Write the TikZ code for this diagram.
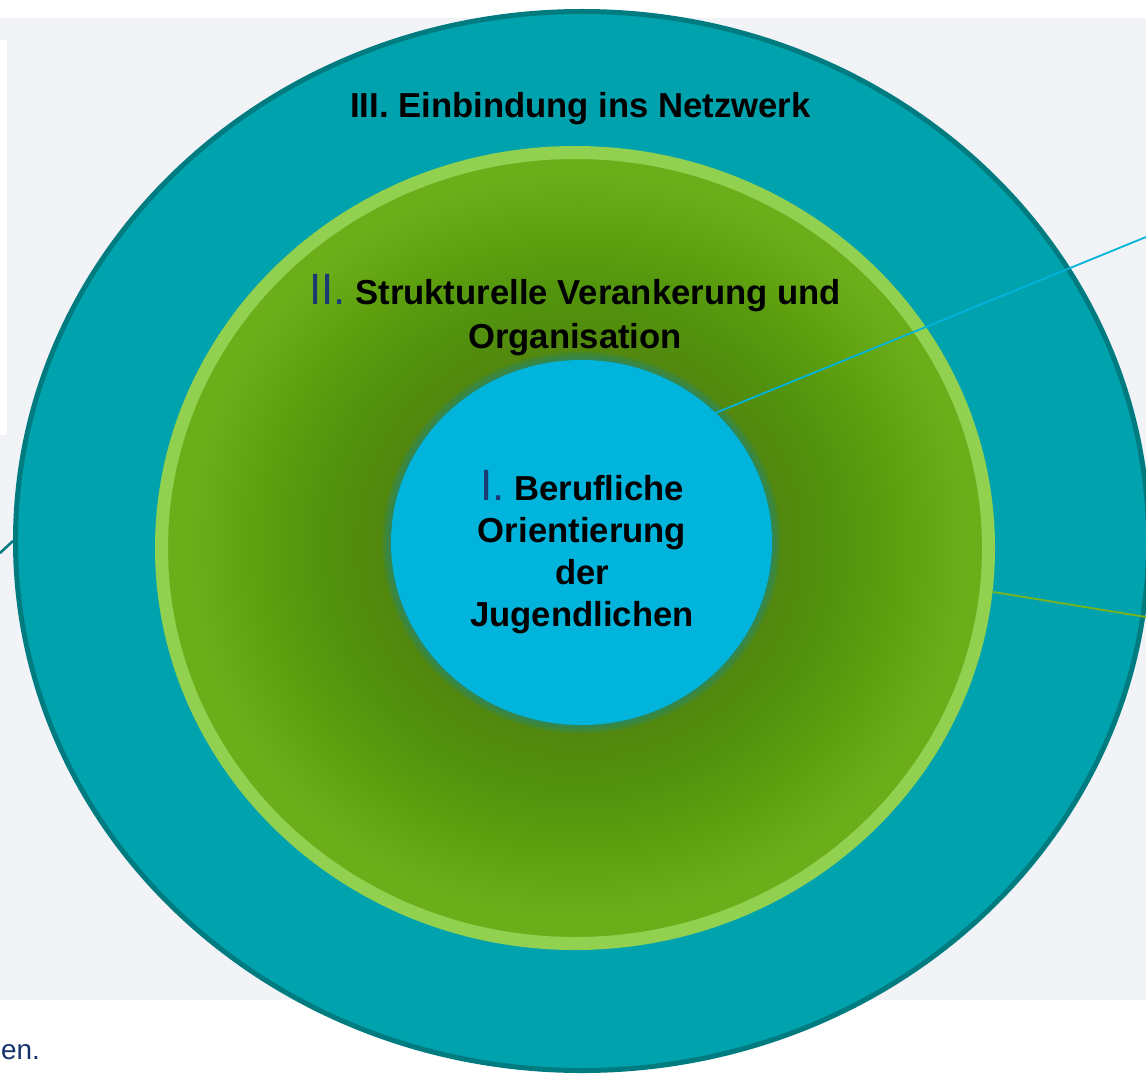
\documentclass[tikz,border=0pt]{standalone}
\usepackage{fontspec}
\setmainfont{Liberation Sans}
\usetikzlibrary{shapes.geometric}
\definecolor{panelgray}{HTML}{F2F3F7}
\definecolor{outerfill}{HTML}{00A3AD}
\definecolor{outerline}{HTML}{007B80}
\definecolor{ringgreen}{HTML}{92D050}
\definecolor{glight}{HTML}{6BAE1A}
\definecolor{gdark}{HTML}{52820E}
\definecolor{innerblue}{HTML}{00B4DC}
\definecolor{numblue}{HTML}{1A3A72}
\definecolor{glowcol}{HTML}{1E8C8C}
\definecolor{linegreen}{HTML}{7AB51D}
\definecolor{notenavy}{HTML}{15336B}
\tikzset{
  outerring/.style={ellipse, draw=outerline, fill=outerfill, line width=5bp,
    minimum width=1133bp, minimum height=1059bp, inner sep=0pt},
  midring/.style={ellipse, draw=ringgreen, fill=glight, line width=13bp,
    minimum width=827bp, minimum height=791bp, inner sep=0pt},
  darklayer/.style={fill=gdark, fill opacity=0.024},
  innercirc/.style={ellipse, fill=innerblue, minimum width=381bp, minimum height=365bp, inner sep=0pt},
  glowring/.style={fill=glowcol, fill opacity=0.09},
  maintext/.style={font=\bfseries\fontsize{34.8}{43}\selectfont, text=black, inner sep=0pt, align=center},
  link/.style={line width=1.8bp}
}
\newcommand{\romnum}[1]{{\color{numblue}\mdseries\fontsize{44}{44}\selectfont #1}}
\begin{document}
\begin{tikzpicture}[x=1bp,y=-1bp]
\useasboundingbox (0,0) rectangle (1146,1076);
\clip (0,0) rectangle (1146,1076);
\fill[white] (0,0) rectangle (1146,1076);
\fill[panelgray] (0,18) rectangle (1146,1000);
\fill[white] (0,40) rectangle (7,435);
\node[outerring] (outer) at (582,541) {};
\node[midring] (mid) at (575,548) {};
\foreach \k in {0,...,37} {
  \path[darklayer] (579,545) ellipse [x radius=200+\k*5, y radius=(200+\k*5)*0.955];
}
\foreach \r in {1,...,9} {
  \path[glowring] (581.5,542.5) ellipse [x radius=190.5+\r, y radius=182.5+\r];
}
\node[innercirc] (inner) at (581.5,542.5) {};
\node[maintext, anchor=base] (t3) at (580.5,117) {III. Einbindung ins Netzwerk};
\node[maintext, anchor=base, font=\bfseries\fontsize{34.8}{44}\selectfont] (t2) at (575,348) {\romnum{II.} Strukturelle Verankerung und\\Organisation};
\node[maintext, anchor=base, font=\bfseries\fontsize{34.8}{42}\selectfont] (t1) at (582,626) {\romnum{I.} Berufliche\\Orientierung\\der\\Jugendlichen};
\node[anchor=base east, inner sep=0pt, text=notenavy, font=\fontsize{28}{32}\selectfont] (note) at (40,1059) {en.};
\coordinate (cyanend) at (1146,237);
\coordinate (greenend) at (1146,617);
\coordinate (leftend) at (0,553);
\draw[link, innerblue] (inner.44) -- (cyanend);
\draw[link, linegreen] (mid.-6) -- (greenend);
\draw[link, outerline, line width=2.5bp] (outer.180) -- (leftend);
\end{tikzpicture}
\end{document}
